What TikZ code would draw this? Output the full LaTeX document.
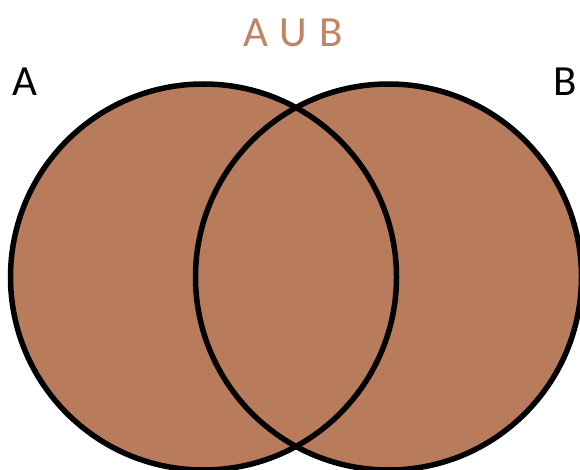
\documentclass[tikz,border=0pt]{standalone}
\usepackage{fontspec}
\setmainfont{Carlito}
\definecolor{setfill}{RGB}{184,123,91}
\definecolor{settext}{RGB}{190,132,100}
\begin{document}
\begin{tikzpicture}[x=1pt,y=-1pt,
  setcircle/.style={circle, minimum size=386pt, inner sep=0pt, line width=5.5pt},
  label/.style={font=\fontsize{43}{43}\selectfont, inner sep=0pt, anchor=base}]
\useasboundingbox (0,0) rectangle (580,470);
\fill[setfill] (203.5,277) circle[radius=193];
\fill[setfill] (388.5,277) circle[radius=193];
\node[setcircle, draw=black] (A) at (203.5,277) {};
\node[setcircle, draw=black] (B) at (388.5,277) {};
\node[label] (la) at (24.5,96) {A};
\node[label] (lb) at (565,96) {B};
\node[label, text=settext] (u) at (293,47) {A\hspace{12pt}U\hspace{12pt}B};
\end{tikzpicture}
\end{document}
